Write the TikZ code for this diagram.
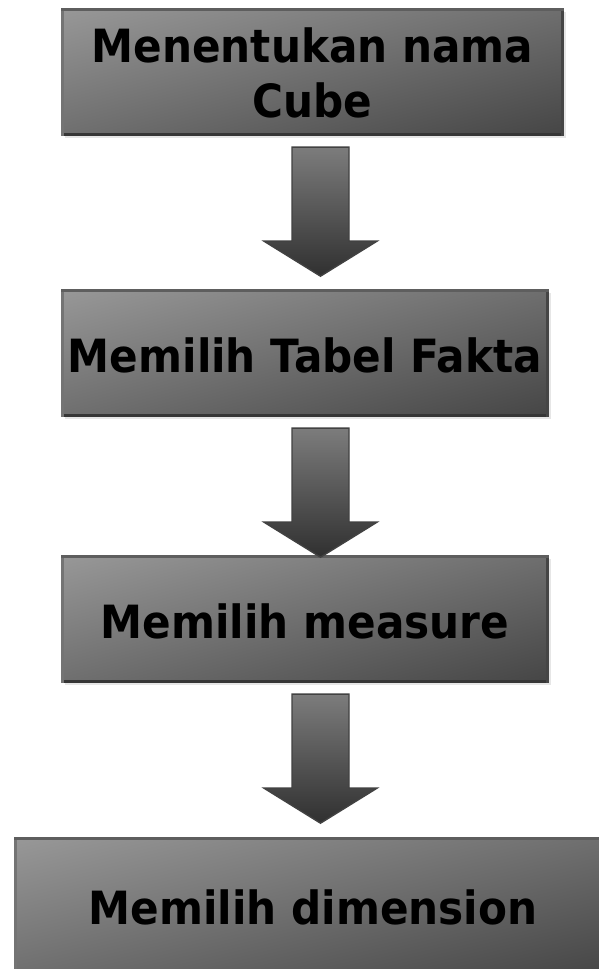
\documentclass[tikz,border=0pt]{standalone}
\usepackage{graphicx}
\usepackage{fontspec}
\setmainfont{DejaVu Sans}
\usetikzlibrary{calc,backgrounds}

\definecolor{boxlight}{HTML}{989898}
\definecolor{boxdark}{HTML}{454545}
\definecolor{edgetop}{HTML}{5E5E5E}
\definecolor{edgeleft}{HTML}{747474}
\definecolor{edgeright}{HTML}{454545}
\definecolor{edgebottom}{HTML}{363636}
\definecolor{shadowgray}{HTML}{E6E6E6}
\definecolor{arrowtop}{HTML}{7C7C7C}
\definecolor{arrowbottom}{HTML}{303030}
\definecolor{arrowedge}{HTML}{424242}

% diagonal grey fill of a box: #1 node, #2/#3 half width/height
\newcommand\boxfill[3]{%
  \begin{scope}
    \clip (0,0) rectangle (599,969);
    \fill[shadowgray] ($(#1.south west)+(3,-3)$) rectangle ($(#1.north east)+(3,-3)$);
    \clip (#1.south west) rectangle (#1.north east);
    \shade[transform canvas={shift={(#1.center)}, xscale=#2, yscale=#3, rotate=45},
           top color=boxlight, bottom color=boxdark]
      (-1.4142,-1.4142) rectangle (1.4142,1.4142);
  \end{scope}}

% bevelled frame of a box
\newcommand\boxedges[1]{%
  \draw[boxedge, edgebottom] (#1.south west) -- (#1.south east);
  \draw[boxedge, edgeright] (#1.south east) -- (#1.north east);
  \draw[boxedge, edgeleft] (#1.south west) -- (#1.north west);
  \draw[boxedge, edgetop] (#1.north west) -- (#1.north east);}

% block arrow hanging below box #1
\newcommand\blockarrow[2]{%
  \coordinate (#2) at ($(spine |- #1.south)+(0,-12.5)$);
  \draw[flowarrow, shift={(#2)}]
    (-28.5,0) -- (28.5,0) -- (28.5,-94) -- (56.5,-94) -- (0,-129)
    -- (-56.5,-94) -- (-28.5,-94) -- cycle;}

% label text, stretched a little upright
\newcommand\boxlabel[1]{\scalebox{1}[1.085]{#1}}

\begin{document}
\begin{tikzpicture}[x=1pt, y=1pt,
  boxnode/.style={inner sep=0pt, text=black,
    font=\fontsize{42.2}{50.7}\selectfont\bfseries},
  boxedge/.style={line width=3pt, line cap=rect},
  flowarrow/.style={top color=arrowtop, bottom color=arrowbottom,
    draw=arrowedge, line width=1.4pt, line join=miter}]
\useasboundingbox (0,0) rectangle (599,969);
\clip (0,0) rectangle (599,969);
\coordinate (spine) at (320.5,0);

\node[boxnode, minimum width=500pt, minimum height=125pt,
      text height=40pt, text depth=58pt] (b1) at (312.5,897)
  {\boxlabel{\begin{tabular}[t]{@{}c@{}}Menentukan nama\\Cube\end{tabular}}};
\node[boxnode, minimum width=485pt, minimum height=125pt,
      text height=40pt, text depth=0pt] (b2) at (305,616)
  {\boxlabel{Memilih Tabel Fakta}};
\node[boxnode, minimum width=485pt, minimum height=125pt,
      text height=40pt, text depth=0pt] (b3) at (305,350)
  {\boxlabel{Memilih measure}};
\node[boxnode, minimum width=595pt, minimum height=135pt,
      text height=38pt, text depth=0pt] (b4) at (313,63)
  {\boxlabel{Memilih dimension}};

\begin{pgfonlayer}{background}
  \fill[white] (0,0) rectangle (599,969);
  \boxfill{b1}{251.5}{64}
  \boxfill{b2}{244}{64}
  \boxfill{b3}{244}{64}
  \boxfill{b4}{299}{69}
\end{pgfonlayer}

\boxedges{b1}
\boxedges{b2}
\boxedges{b3}
\boxedges{b4}

\blockarrow{b1}{a1}
\blockarrow{b2}{a2}
\blockarrow{b3}{a3}
\end{tikzpicture}
\end{document}
